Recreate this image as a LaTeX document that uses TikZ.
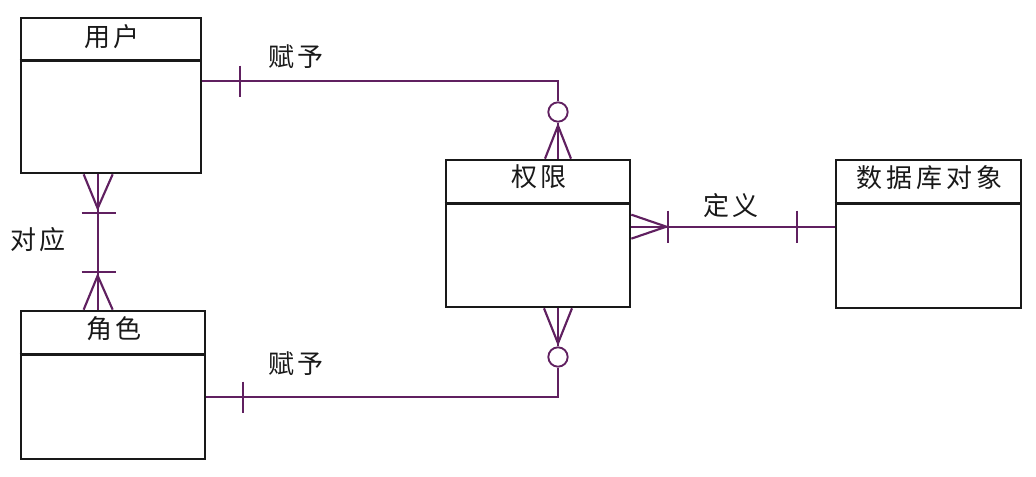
\documentclass[tikz,border=0pt]{standalone}
\usepackage{fontspec}
\newfontfamily\cjk[LetterSpace=15]{Noto Sans CJK SC}
\usetikzlibrary{calc}
\definecolor{relc}{RGB}{96,32,96}
\definecolor{ink}{RGB}{25,25,25}
\begin{document}
\begin{tikzpicture}[x=0.75pt,y=-0.75pt,
  entity/.style={draw=ink, line width=2pt, inner sep=0pt, fill=white},
  divider/.style={draw=ink, line width=1.8pt},
  rel/.style={draw=relc, line width=1.6pt},
  opt/.style={circle, draw=relc, line width=1.4pt, fill=white, inner sep=0pt, minimum size=14.5pt},
  txt/.style={font=\cjk\fontsize{19.5}{22}\selectfont, text=ink, inner sep=0pt}]
\useasboundingbox (0,0) rectangle (1036,476);

% entities
\node[entity, minimum width=135pt, minimum height=116.25pt] (user) at (111,95.5) {};
\node[entity, minimum width=138pt, minimum height=111pt] (role) at (113,385) {};
\node[entity, minimum width=138pt, minimum height=110.25pt] (perm) at (538,233.5) {};
\node[entity, minimum width=138.75pt, minimum height=111pt] (dbo) at (928.5,234) {};

\draw[divider] ($(user.north west)+(0,44)$) -- ($(user.north east)+(0,44)$);
\draw[divider] ($(role.north west)+(0,45)$) -- ($(role.north east)+(0,45)$);
\draw[divider] ($(perm.north west)+(0,45)$) -- ($(perm.north east)+(0,45)$);
\draw[divider] ($(dbo.north west)+(0,45)$) -- ($(dbo.north east)+(0,45)$);

\node[txt] (tuser) at ($(user.north)+(1,20)$) {用户};
\node[txt] (trole) at ($(role.north)+(1,19)$) {角色};
\node[txt] (tperm) at ($(perm.north)+(1,18)$) {权限};
\node[txt] (tdbo) at ($(dbo.north)+(1,19)$) {数据库对象};

% user -- role
\coordinate (urA) at ($(user.south west)+(78,0)$);
\coordinate (urB) at ($(role.north west)+(78,0)$);
\draw[rel] (urA) -- (urB);
\draw[rel] ($(urA)+(-14,0)$) -- ($(urA)+(0,34)$) -- ($(urA)+(15,0)$);
\draw[rel] ($(urA)+(-16,39)$) -- ($(urA)+(18,39)$);
\draw[rel] ($(urB)+(-16,-38)$) -- ($(urB)+(18,-38)$);
\draw[rel] ($(urB)+(-14,0)$) -- ($(urB)+(0,-34)$) -- ($(urB)+(15,0)$);
\node[txt] (l1) at (38,240) {对应};

% user -- perm
\node[opt] (o1) at (558,112) {};
\coordinate (upA) at ($(user.north east)+(0,64)$);
\draw[rel] (upA) -| (o1.north);
\draw[rel] ($(upA)+(38,-15)$) -- ($(upA)+(38,16)$);
\coordinate (upB) at (perm.north -| o1);
\coordinate (apx1) at ($(upB)+(0,-33)$);
\draw[rel] (o1.south) -- (upB);
\draw[rel] ($(upB)+(-13,0)$) -- (apx1) -- ($(upB)+(13,0)$);
\node[txt] (l2) at (296,57) {赋予};

% role -- perm
\node[opt] (o2) at (558,357) {};
\coordinate (rpA) at ($(role.north east)+(0,87)$);
\draw[rel] (rpA) -| (o2.south);
\draw[rel] ($(rpA)+(37,-15)$) -- ($(rpA)+(37,16)$);
\coordinate (rpB) at (perm.south -| o2);
\coordinate (apx2) at ($(rpB)+(0,35)$);
\draw[rel] (o2.north) -- (rpB);
\draw[rel] ($(rpB)+(-14,0)$) -- (apx2) -- ($(rpB)+(14,0)$);
\node[txt] (l3) at (296,364) {赋予};

% perm -- dbo
\coordinate (pdA) at ($(perm.north east)+(0,68)$);
\coordinate (pdB) at (dbo.west |- pdA);
\draw[rel] (pdA) -- (pdB);
\draw[rel] ($(pdA)+(0,-12)$) -- ($(pdA)+(35,0)$) -- ($(pdA)+(0,12)$);
\draw[rel] ($(pdA)+(37,-16)$) -- ($(pdA)+(37,16)$);
\draw[rel] ($(pdB)+(-38,-16)$) -- ($(pdB)+(-38,16)$);
\node[txt] (l4) at (731,206) {定义};
\end{tikzpicture}
\end{document}
